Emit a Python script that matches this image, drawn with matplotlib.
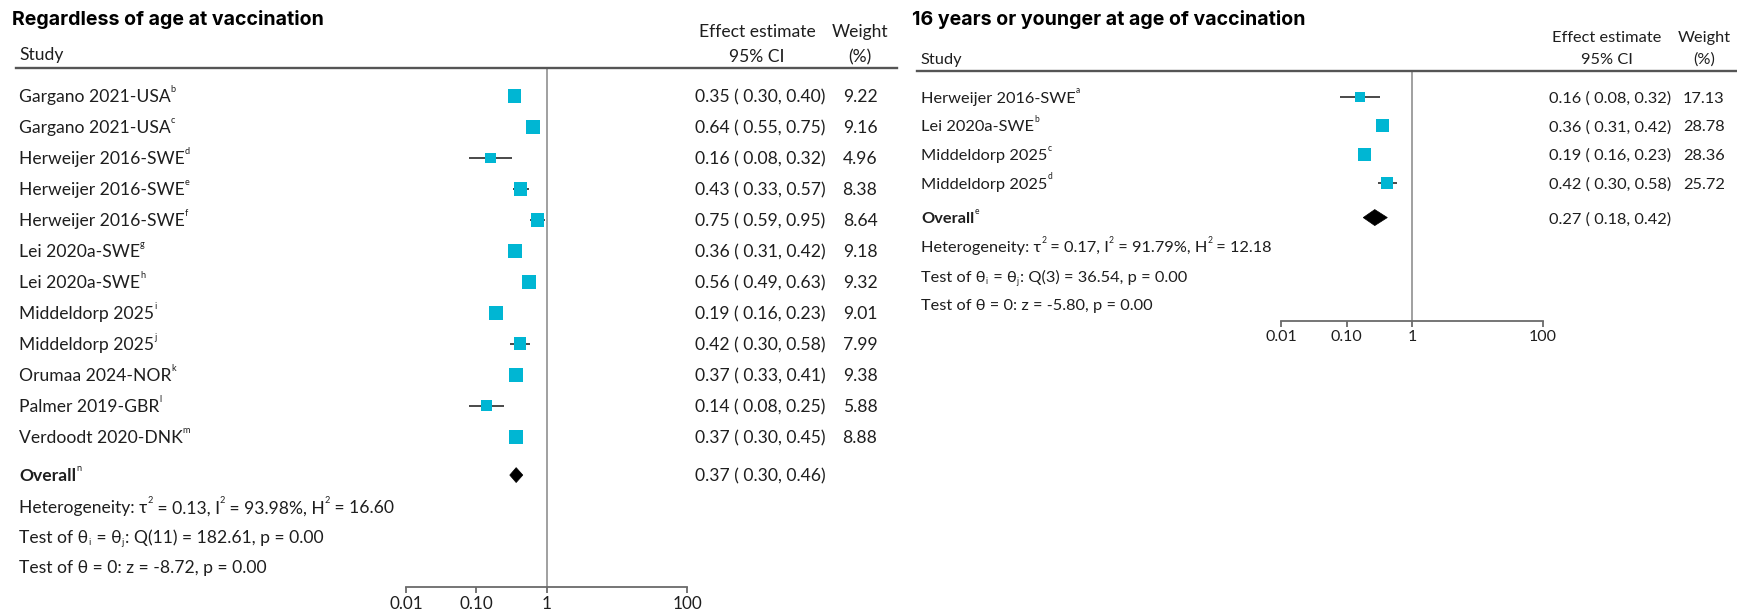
import matplotlib
matplotlib.use("Agg")
import matplotlib.pyplot as plt
from matplotlib.lines import Line2D
from matplotlib.patches import Polygon

# ---------------- data ----------------
left_title = "Regardless of age at vaccination"
left_studies = ["Gargano 2021-USA", "Gargano 2021-USA", "Herweijer 2016-SWE",
                "Herweijer 2016-SWE", "Herweijer 2016-SWE", "Lei 2020a-SWE",
                "Lei 2020a-SWE", "Middeldorp 2025", "Middeldorp 2025",
                "Orumaa 2024-NOR", "Palmer 2019-GBR", "Verdoodt 2020-DNK"]
left_notes = ["b", "c", "d", "e", "f", "g", "h", "i", "j", "k", "l", "m"]
left_est = [0.35, 0.64, 0.16, 0.43, 0.75, 0.36, 0.56, 0.19, 0.42, 0.37, 0.14, 0.37]
left_lo = [0.30, 0.55, 0.08, 0.33, 0.59, 0.31, 0.49, 0.16, 0.30, 0.33, 0.08, 0.30]
left_hi = [0.40, 0.75, 0.32, 0.57, 0.95, 0.42, 0.63, 0.23, 0.58, 0.41, 0.25, 0.45]
left_weight = [9.22, 9.16, 4.96, 8.38, 8.64, 9.18, 9.32, 9.01, 7.99, 9.38, 5.88, 8.88]
left_overall = [0.37, 0.30, 0.46]
left_overall_note = "n"
left_stats = {"tau2": "0.13", "I2": "93.98%", "H2": "16.60",
              "df": "11", "Q": "182.61", "pQ": "0.00", "z": "-8.72", "pz": "0.00"}

right_title = "16 years or younger at age of vaccination"
right_studies = ["Herweijer 2016-SWE", "Lei 2020a-SWE", "Middeldorp 2025", "Middeldorp 2025"]
right_notes = ["a", "b", "c", "d"]
right_est = [0.16, 0.36, 0.19, 0.42]
right_lo = [0.08, 0.31, 0.16, 0.30]
right_hi = [0.32, 0.42, 0.23, 0.58]
right_weight = [17.13, 28.78, 28.36, 25.72]
right_overall = [0.27, 0.18, 0.42]
right_overall_note = "e"
right_stats = {"tau2": "0.17", "I2": "91.79%", "H2": "12.18",
               "df": "3", "Q": "36.54", "pQ": "0.00", "z": "-5.80", "pz": "0.00"}

tick_values = [0.01, 0.1, 1, 100]
tick_labels = ["0.01", "0.10", "1", "100"]

# ---------------- style ----------------
W, H = 1737, 615
DPI = 100
FONT = "Lato"
TITLE_FONT = "Inter"
TXT = "#1e1e1e"
SQUARE = "#00B6D3"
CI_COL = "#3a3a3a"
RULE = "#555555"
REF = "#a0a0a0"

fig = plt.figure(figsize=(W / DPI, H / DPI), dpi=DPI)
fig.patch.set_facecolor("white")
renderer = fig.canvas.get_renderer()


def pt2px(pt):
    return pt * DPI / 72.0


def put(x, y, text, size, ha="left", weight="normal", color=TXT, family=FONT):
    """Text whose visual centre sits at pixel (x, y), y measured from the top."""
    base = y + 0.36 * pt2px(size)
    return fig.text(x / W, 1 - base / H, text, fontsize=size, family=family,
                    ha=ha, va="baseline", weight=weight, color=color)


def rich(x, y, segs, size, weight="normal", color=TXT):
    """Run of text pieces with small raised ('sup') or lowered ('sub') parts."""
    base = y + 0.36 * pt2px(size)
    for txt, kind in segs:
        fs, dy = size, 0.0
        if kind == "sup":
            fs, dy = size * 0.52, -0.58 * pt2px(size)
        elif kind == "sub":
            fs, dy = size * 0.52, 0.12 * pt2px(size)
        t = fig.text(x / W, 1 - (base + dy) / H, txt, fontsize=fs, family=FONT,
                     ha="left", va="baseline", weight=weight if kind == "n" else "normal",
                     color=color)
        x += t.get_window_extent(renderer).width
        if kind == "sub":
            x += 1.5


def hline(x0, x1, y, lw=1.7, color=RULE):
    fig.add_artist(Line2D([x0 / W, x1 / W], [1 - y / H, 1 - y / H],
                          transform=fig.transFigure, color=color, lw=lw))


def panel(cfg):
    studies, notes = cfg["studies"], cfg["notes"]
    est, lo, hi, wt = cfg["est"], cfg["lo"], cfg["hi"], cfg["weight"]
    n = len(studies)
    fs = cfg["fs"]
    ax = fig.add_axes([cfg["ax_x0"] / W, 1 - cfg["ax_y1"] / H,
                       (cfg["ax_x1"] - cfg["ax_x0"]) / W,
                       (cfg["ax_y1"] - cfg["ax_y0"]) / H])
    ax.set_xscale("log")
    ax.set_xlim(tick_values[0], tick_values[-1])
    rows = list(range(n))
    r_over, r_het, r_q, r_z = cfg["text_rows"]
    ax.set_ylim(cfg["ylim"])
    ax.patch.set_alpha(0)
    for s in ("top", "left", "right"):
        ax.spines[s].set_visible(False)
    ax.spines["bottom"].set_color("#6a6a6a")
    ax.spines["bottom"].set_linewidth(1.3)
    ax.spines["bottom"].set_bounds(tick_values[0], tick_values[-1])
    ax.set_yticks([])
    ax.set_xticks(tick_values)
    ax.set_xticklabels(tick_labels)
    ax.minorticks_off()
    ax.tick_params(axis="x", direction="out", length=4, width=1.3, color="#6a6a6a",
                   pad=2.5, labelsize=fs - 0.3, labelcolor=TXT)
    for lab in ax.get_xticklabels():
        lab.set_family(FONT)

    ax.axvline(1, color=REF, lw=1.4, zorder=1)

    # confidence intervals and weighted squares
    for r, l, h in zip(rows, lo, hi):
        ax.plot([l, h], [r, r], color=CI_COL, lw=1.3, zorder=2, solid_capstyle="butt")
    wmax = max(wt)
    sizes = [(cfg["sq_px"] * 72 / DPI) ** 2 * w / wmax for w in wt]
    ax.scatter(est, rows, s=sizes, marker="s", color=SQUARE, linewidths=0, zorder=3)

    # pooled estimate diamond
    oe, ol, oh = cfg["overall"]
    hh = cfg["diamond_h"]
    ax.add_patch(Polygon([[ol, r_over], [oe, r_over - hh], [oh, r_over], [oe, r_over + hh]],
                         closed=True, facecolor="black", edgecolor="black", lw=0.5, zorder=3))

    def ypx(r):
        disp = ax.transData.transform((1, r))
        return H - disp[1]

    # header
    put(cfg["title_x"], cfg["title_y"], cfg["title"], cfg["title_fs"],
        weight="bold", color="black", family=TITLE_FONT)
    put(cfg["label_x"], cfg["study_y"], "Study", fs)
    put(cfg["est_hdr_x"], cfg["hdr_y1"], "Effect estimate", fs, ha="center")
    put(cfg["est_hdr_x"], cfg["hdr_y2"], "95% CI", fs, ha="center")
    put(cfg["w_x"], cfg["hdr_y1"], "Weight", fs, ha="center")
    put(cfg["w_x"], cfg["hdr_y2"], "(%)", fs, ha="center")
    hline(cfg["rule_x0"], cfg["rule_x1"], cfg["ax_y0"])

    # study rows
    for r, name, note, e, l, h, w in zip(rows, studies, notes, est, lo, hi, wt):
        y = ypx(r)
        rich(cfg["label_x"], y, [(name, "n"), (note, "sup")], fs)
        put(cfg["est_x"], y, f"{e:.2f} ( {l:.2f}, {h:.2f})", fs)
        put(cfg["w_x"], y, f"{w:.2f}", fs, ha="center")

    # overall row and statistics
    y = ypx(r_over)
    rich(cfg["label_x"], y, [("Overall", "n"), (cfg["overall_note"], "sup")], fs, weight="bold")
    put(cfg["est_x"], y, f"{oe:.2f} ( {ol:.2f}, {oh:.2f})", fs)
    st = cfg["stats"]
    rich(cfg["label_x"], ypx(r_het),
         [("Heterogeneity: τ", "n"), ("2", "sup"), (f" = {st['tau2']}, I", "n"), ("2", "sup"),
          (f" = {st['I2']}, H", "n"), ("2", "sup"), (f" = {st['H2']}", "n")], fs)
    rich(cfg["label_x"], ypx(r_q),
         [("Test of θ", "n"), ("i", "sub"), (" = θ", "n"), ("j", "sub"),
          (f": Q({st['df']}) = {st['Q']}, p = {st['pQ']}", "n")], fs)
    rich(cfg["label_x"], ypx(r_z),
         [(f"Test of θ = 0: z = {st['z']}, p = {st['pz']}", "n")], fs)
    return ax


left_cfg = dict(
    title=left_title, studies=left_studies, notes=left_notes, est=left_est, lo=left_lo,
    hi=left_hi, weight=left_weight, overall=left_overall, overall_note=left_overall_note,
    stats=left_stats, fs=12.6, title_fs=14.1,
    ax_x0=406, ax_x1=687, ax_y0=68, ax_y1=587,
    ylim=(15.84, -0.90), text_rows=(12.23, 13.26, 14.23, 15.19),
    sq_px=14.0, diamond_h=0.24,
    title_x=12, title_y=18, label_x=19, study_y=54, hdr_y1=31, hdr_y2=56,
    est_hdr_x=757, est_x=695, w_x=860, rule_x0=16, rule_x1=897,
)
right_cfg = dict(
    title=right_title, studies=right_studies, notes=right_notes, est=right_est, lo=right_lo,
    hi=right_hi, weight=right_weight, overall=right_overall, overall_note=right_overall_note,
    stats=right_stats, fs=11.8, title_fs=14.1,
    ax_x0=1281, ax_x1=1543, ax_y0=71, ax_y1=321,
    ylim=(7.84, -0.91), text_rows=(4.22, 5.23, 6.27, 7.25),
    sq_px=13.0, diamond_h=0.28,
    title_x=912, title_y=18, label_x=921, study_y=58, hdr_y1=36, hdr_y2=58,
    est_hdr_x=1607, est_x=1549, w_x=1704, rule_x0=917, rule_x1=1737,
)

panel(left_cfg)
panel(right_cfg)

fig.savefig("out.png", dpi=DPI, facecolor="white")
